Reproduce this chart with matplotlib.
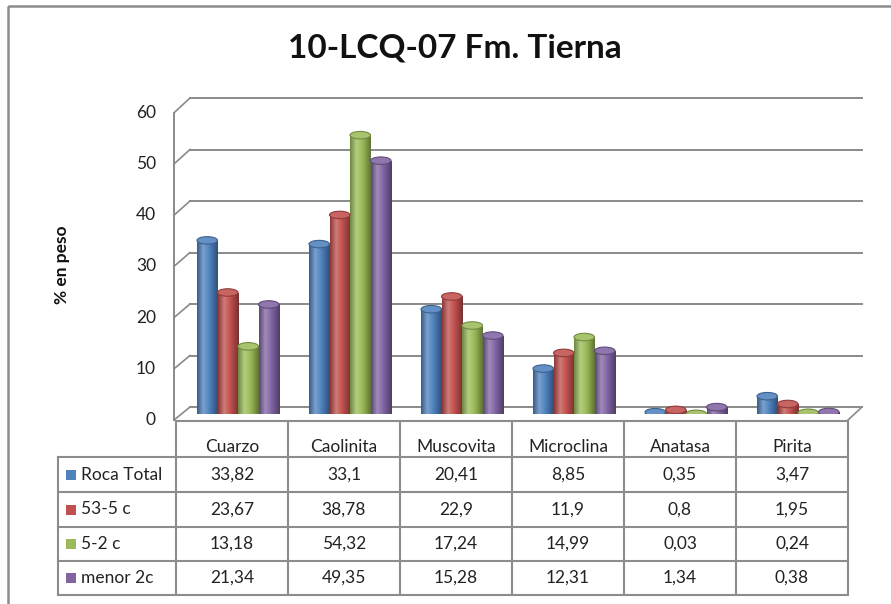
import numpy as np
import matplotlib
matplotlib.use("Agg")
import matplotlib.pyplot as plt
from matplotlib.patches import Rectangle, Ellipse
from matplotlib.colors import LinearSegmentedColormap, to_rgb

# ---------------- data ----------------
title = "10-LCQ-07 Fm. Tierna"
ylabel = "% en peso"
categories = ["Cuarzo", "Caolinita", "Muscovita", "Microclina", "Anatasa", "Pirita"]
series_names = ["Roca Total", "53-5 c", "5-2 c", "menor 2c"]
roca_total = [33.82, 33.1, 20.41, 8.85, 0.35, 3.47]
c53_5 = [23.67, 38.78, 22.9, 11.9, 0.8, 1.95]
c5_2 = [13.18, 54.32, 17.24, 14.99, 0.03, 0.24]
menor_2c = [21.34, 49.35, 15.28, 12.31, 1.34, 0.38]
yticks = [0, 10, 20, 30, 40, 50, 60]

series = [roca_total, c53_5, c5_2, menor_2c]
colors = ["#4F81BD", "#C0504D", "#9BBB59", "#8064A2"]

plt.rcParams['font.family'] = ['Lato', 'DejaVu Sans']

W, H = 891, 604
fig = plt.figure(figsize=(W / 100, H / 100), dpi=100)
fig.patch.set_facecolor("white")

# background overlay in pixel coordinates
bg = fig.add_axes([0, 0, 1, 1], zorder=0)
bg.set_xlim(0, W)
bg.set_ylim(H, 0)
bg.axis("off")

grid_c = "#8a8a8a"
# outer chart border
bg.add_patch(Rectangle((8, 6), 900, 620, fill=False, edgecolor="#8c8c8c", lw=1.8))

# 3D wall geometry
front_x, back_x, right_back_x = 174, 190, 862
def front_y(v):
    return 420 - v * 5.12
def back_y(v):
    return 407 - v * 5.15

for v in yticks:
    bg.plot([back_x, right_back_x], [back_y(v), back_y(v)], color=grid_c, lw=1.4)
    bg.plot([front_x, back_x], [front_y(v), back_y(v)], color=grid_c, lw=1.2)
    bg.text(156, front_y(v), str(v), ha="right", va="center", fontsize=12.5, color="#222222")
bg.plot([front_x, front_x], [front_y(0), front_y(60)], color=grid_c, lw=1.4)
# floor right edge
bg.plot([848, right_back_x], [front_y(0), back_y(0)], color=grid_c, lw=1.2)

bg.text(62, 265, ylabel, rotation=90, ha="center", va="center", fontsize=12.5,
        fontweight="bold", color="#111111")
bg.text(455, 48, title, ha="center", va="center", fontsize=24, fontweight="bold",
        color="#111111")

# ---------------- bars ----------------
px_per_unit = 5.133
base_px = 414
top_px = base_px - 60 * px_per_unit
ax_x0, ax_x1 = 182, 854
ax = fig.add_axes([ax_x0 / W, (H - base_px) / H, (ax_x1 - ax_x0) / W, (base_px - top_px) / H],
                  zorder=2)
ax.patch.set_alpha(0)
ax.axis("off")

bw = 20.5 / 112.0
eh = 7.5 / px_per_unit
xs = np.arange(len(categories))

def shade(c, f):
    r = np.array(to_rgb(c))
    return tuple(np.clip(r * f, 0, 1))

def tint(c, f):
    r = np.array(to_rgb(c))
    return tuple(np.clip(r + (1 - r) * f, 0, 1))

for si, (vals, col) in enumerate(zip(series, colors)):
    cmap = LinearSegmentedColormap.from_list(
        "g%d" % si,
        [(0.0, shade(col, 0.72)), (0.3, tint(col, 0.25)), (0.6, col), (1.0, shade(col, 0.62))])
    offs = (si - 1.5) * bw
    bars = ax.bar(xs + offs, vals, width=bw, color=col, zorder=3, linewidth=0)
    for b, v in zip(bars, vals):
        x0 = b.get_x()
        xc = x0 + bw / 2
        # bottom ellipse
        ax.add_patch(Ellipse((xc, 0), bw, eh, facecolor=shade(col, 0.8), edgecolor="none", zorder=2.5))
        grad = np.linspace(0, 1, 64).reshape(1, -1)
        im = ax.imshow(grad, extent=[x0, x0 + bw, 0, max(v, 0.001)], aspect="auto",
                       cmap=cmap, zorder=3.2, origin="lower")
        im.set_clip_path(b)
        # top ellipse
        ax.add_patch(Ellipse((xc, v), bw, eh, facecolor=tint(col, 0.12),
                             edgecolor=shade(col, 0.75), lw=0.8, zorder=3.5))

ax.set_xlim(-0.5, len(categories) - 0.5)
ax.set_ylim(0, 60)

# ---------------- data table ----------------
tb = fig.add_axes([0, 0, 1, 1], zorder=3)
tb.set_xlim(0, W)
tb.set_ylim(H, 0)
tb.axis("off")
tb.patch.set_alpha(0)

col_edges = [176 + 112 * i for i in range(len(categories) + 1)]
row_edges = [421, 457, 492, 527, 561, 595]
lab_x0 = 58
line_c = "#8c8c8c"
# horizontal lines
tb.plot([col_edges[0], col_edges[-1]], [row_edges[0], row_edges[0]], color=line_c, lw=1.5)
for y in row_edges[1:]:
    tb.plot([lab_x0, col_edges[-1]], [y, y], color=line_c, lw=1.5)
for x in col_edges:
    tb.plot([x, x], [row_edges[0], row_edges[-1]], color=line_c, lw=1.5)
tb.plot([lab_x0, lab_x0], [row_edges[1], row_edges[-1]], color=line_c, lw=1.5)

for ci, cat in enumerate(categories):
    tb.text((col_edges[ci] + col_edges[ci + 1]) / 2, 447, cat, ha="center", va="center",
            fontsize=12.5, color="#222222")

for si, (name, vals, col) in enumerate(zip(series_names, series, colors)):
    yc = (row_edges[si + 1] + row_edges[si + 2]) / 2
    tb.add_patch(Rectangle((66, yc - 5), 10, 10, facecolor=col, edgecolor="none"))
    tb.text(81, yc, name, ha="left", va="center", fontsize=12.5, color="#222222")
    for ci, v in enumerate(vals):
        tb.text((col_edges[ci] + col_edges[ci + 1]) / 2, yc, str(v).replace(".", ","),
                ha="center", va="center", fontsize=12.5, color="#222222")

fig.savefig("out.png", dpi=100)
